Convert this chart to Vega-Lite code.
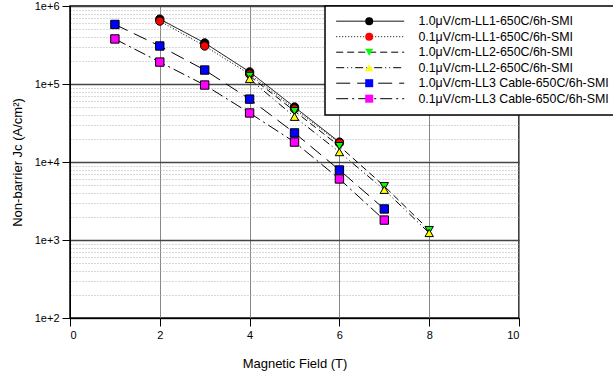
{
  "$schema": "https://vega.github.io/schema/vega-lite/v6.json",
  "autosize": "none",
  "width": 449,
  "height": 312,
  "padding": {"left": 70, "top": 6, "right": 94, "bottom": 61},
  "background": "white",
  "config": {
    "font": "Liberation Sans",
    "view": {"stroke": "black", "strokeWidth": 1.5},
    "legend": {"strokeWidth": 1.5},
    "axis": {"labelFontSize": 11, "labelColor": "black", "titleColor": "black", "titleFontWeight": "normal", "titleFontSize": 13, "domainColor": "black", "tickColor": "black", "tickSize": 8}
  },
  "data": {"values": [
    {"s": "1.0μV/cm-LL1-650C/6h-SMI", "B": 2, "Jc": 680000},
    {"s": "1.0μV/cm-LL1-650C/6h-SMI", "B": 3, "Jc": 336000},
    {"s": "1.0μV/cm-LL1-650C/6h-SMI", "B": 4, "Jc": 143000},
    {"s": "1.0μV/cm-LL1-650C/6h-SMI", "B": 5, "Jc": 50700},
    {"s": "1.0μV/cm-LL1-650C/6h-SMI", "B": 6, "Jc": 18000},
    {"s": "0.1μV/cm-LL1-650C/6h-SMI", "B": 2, "Jc": 640000},
    {"s": "0.1μV/cm-LL1-650C/6h-SMI", "B": 3, "Jc": 307000},
    {"s": "0.1μV/cm-LL1-650C/6h-SMI", "B": 4, "Jc": 134000},
    {"s": "0.1μV/cm-LL1-650C/6h-SMI", "B": 5, "Jc": 48000},
    {"s": "0.1μV/cm-LL1-650C/6h-SMI", "B": 6, "Jc": 17500},
    {"s": "1.0μV/cm-LL2-650C/6h-SMI", "B": 4, "Jc": 127000},
    {"s": "1.0μV/cm-LL2-650C/6h-SMI", "B": 5, "Jc": 45000},
    {"s": "1.0μV/cm-LL2-650C/6h-SMI", "B": 6, "Jc": 16000},
    {"s": "1.0μV/cm-LL2-650C/6h-SMI", "B": 7, "Jc": 4900},
    {"s": "1.0μV/cm-LL2-650C/6h-SMI", "B": 8, "Jc": 1340},
    {"s": "0.1μV/cm-LL2-650C/6h-SMI", "B": 4, "Jc": 116000},
    {"s": "0.1μV/cm-LL2-650C/6h-SMI", "B": 5, "Jc": 38000},
    {"s": "0.1μV/cm-LL2-650C/6h-SMI", "B": 6, "Jc": 13400},
    {"s": "0.1μV/cm-LL2-650C/6h-SMI", "B": 7, "Jc": 4400},
    {"s": "0.1μV/cm-LL2-650C/6h-SMI", "B": 8, "Jc": 1230},
    {"s": "1.0μV/cm-LL3 Cable-650C/6h-SMI", "B": 1, "Jc": 580000},
    {"s": "1.0μV/cm-LL3 Cable-650C/6h-SMI", "B": 2, "Jc": 307000},
    {"s": "1.0μV/cm-LL3 Cable-650C/6h-SMI", "B": 3, "Jc": 151000},
    {"s": "1.0μV/cm-LL3 Cable-650C/6h-SMI", "B": 4, "Jc": 64000},
    {"s": "1.0μV/cm-LL3 Cable-650C/6h-SMI", "B": 5, "Jc": 23600},
    {"s": "1.0μV/cm-LL3 Cable-650C/6h-SMI", "B": 6, "Jc": 7900},
    {"s": "1.0μV/cm-LL3 Cable-650C/6h-SMI", "B": 7, "Jc": 2500},
    {"s": "0.1μV/cm-LL3 Cable-650C/6h-SMI", "B": 1, "Jc": 378000},
    {"s": "0.1μV/cm-LL3 Cable-650C/6h-SMI", "B": 2, "Jc": 191000},
    {"s": "0.1μV/cm-LL3 Cable-650C/6h-SMI", "B": 3, "Jc": 97000},
    {"s": "0.1μV/cm-LL3 Cable-650C/6h-SMI", "B": 4, "Jc": 42500},
    {"s": "0.1μV/cm-LL3 Cable-650C/6h-SMI", "B": 5, "Jc": 18000},
    {"s": "0.1μV/cm-LL3 Cable-650C/6h-SMI", "B": 6, "Jc": 6060},
    {"s": "0.1μV/cm-LL3 Cable-650C/6h-SMI", "B": 7, "Jc": 1800}
  ]},
  "transform": [{"calculate": "datum.s", "as": "s2"}],
  "encoding": {
    "x": {"field": "B", "type": "quantitative", "scale": {"domain": [0, 10], "nice": false},
      "axis": {"values": [0, 2, 4, 6, 8, 10], "title": "Magnetic Field (T)", "grid": true, "gridColor": "#888888", "gridWidth": 1, "labelPadding": 3, "titlePadding": 17}}
  },
  "layer": [
    {
      "mark": {"type": "line", "color": "black", "strokeWidth": 1},
      "encoding": {
        "y": {"field": "Jc", "type": "quantitative", "scale": {"type": "log", "domain": [100, 1000000], "nice": false},
          "axis": {"orient": "left", "values": [200,300,400,500,600,700,800,900,2000,3000,4000,5000,6000,7000,8000,9000,20000,30000,40000,50000,60000,70000,80000,90000,200000,300000,400000,500000,600000,700000,800000,900000],
            "grid": true, "gridColor": "#b0b0b0", "gridDash": [1, 2], "gridWidth": 1, "labels": false, "ticks": false, "domain": false, "title": null}},
        "strokeDash": {"field": "s", "type": "nominal",
          "scale": {"domain": ["1.0μV/cm-LL1-650C/6h-SMI", "0.1μV/cm-LL1-650C/6h-SMI", "1.0μV/cm-LL2-650C/6h-SMI", "0.1μV/cm-LL2-650C/6h-SMI", "1.0μV/cm-LL3 Cable-650C/6h-SMI", "0.1μV/cm-LL3 Cable-650C/6h-SMI"],
            "range": [[1, 0], [1, 2], [7, 4], [8, 3, 1, 3, 1, 3], [14, 7], [12, 4, 2, 4]]},
          "legend": {"orient": "none", "legendX": 255, "legendY": 0, "title": null, "symbolType": "M-8,0H8", "symbolSize": 72.25, "symbolOffset": 30, "symbolStrokeColor": "black", "symbolStrokeWidth": 1,
            "labelFontSize": 12.4, "labelColor": "black", "labelOffset": 42, "rowPadding": 2.5, "padding": 9, "strokeColor": "black", "fillColor": "white", "labelLimit": 400}}
      }
    },
    {
      "mark": {"type": "point", "filled": true, "stroke": "black", "strokeWidth": 1, "opacity": 1, "size": 70},
      "encoding": {
        "y": {"field": "Jc", "type": "quantitative",
          "axis": {"orient": "left", "values": [100, 1000, 10000, 100000, 1000000], "format": ".0e", "title": "Non-barrier Jc (A/cm²)", "grid": true, "gridColor": "#444444", "gridWidth": 1.5, "labelPadding": 3, "titlePadding": 10}},
        "fill": {"field": "s2", "type": "nominal", "sort": null,
          "scale": {"range": ["#000000", "#ff0000", "#00ff00", "#ffff00", "#0000ff", "#ff00ff"]},
          "legend": {"orient": "none", "legendX": 254, "legendY": 0, "title": null, "symbolSize": 64, "symbolOffset": 30, "symbolStrokeColor": "black", "symbolStrokeWidth": 1, "symbolOpacity": 1,
            "labelFontSize": 12.4, "labelExpr": "''", "rowPadding": 2.5, "padding": 9, "labelLimit": 400}},
        "shape": {"field": "s2", "type": "nominal", "sort": null,
          "scale": {"range": ["circle", "circle", "triangle-down", "triangle-up", "square", "square"]},
          "legend": {"orient": "none", "legendX": 254, "legendY": 0, "title": null, "symbolSize": 64, "symbolOffset": 30, "symbolStrokeColor": "black", "symbolStrokeWidth": 1, "symbolOpacity": 1,
            "labelFontSize": 12.4, "labelExpr": "''", "rowPadding": 2.5, "padding": 9, "labelLimit": 400}}
      }
    }
  ],
  "resolve": {"axis": {"y": "independent"}}
}
